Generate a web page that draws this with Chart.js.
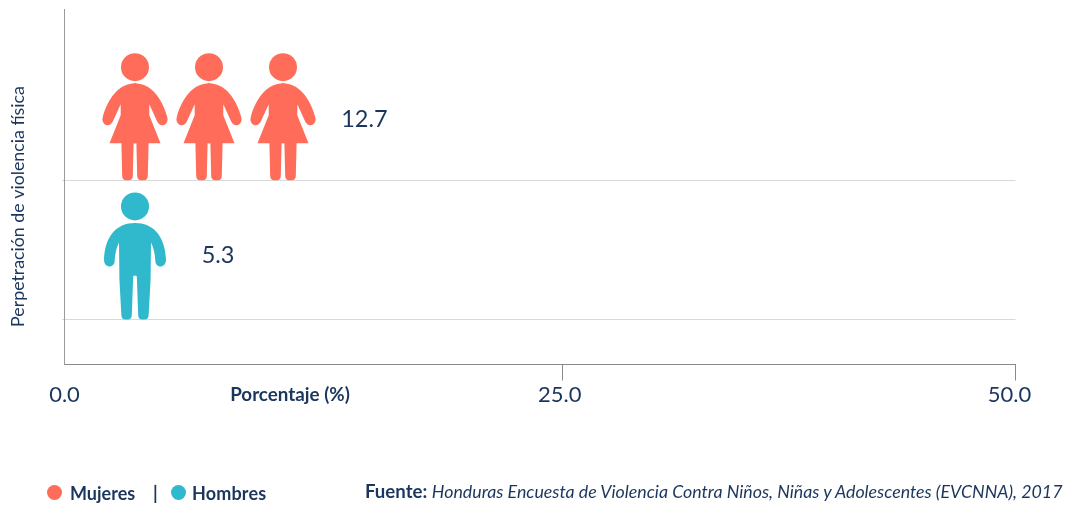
<!DOCTYPE html>
<html lang="es">
<head>
<meta charset="utf-8">
<title>Perpetración de violencia física</title>
<script src="https://cdn.jsdelivr.net/npm/chart.js@4/dist/chart.umd.min.js"></script>
<style>
html,body{margin:0;padding:0;background:#fff;width:1065px;height:505px;overflow:hidden}
#wrap{position:relative;width:1065px;height:505px;font-family:Lato,"Noto Sans",sans-serif;color:#1b365d}
#c{position:absolute;left:0;top:0}
.t{position:absolute;white-space:nowrap;font-size:18px;line-height:20px}
.d{position:absolute;width:15px;height:15px;border-radius:50%}
b{font-weight:700}
i{font-size:17.8px}
</style>
</head>
<body>
<div id="wrap">
<canvas id="c" width="1065" height="505"></canvas>
<span class="d" style="left:47px;top:485px;background:#ff6c5a"></span>
<span class="t" style="left:70px;top:483px"><b>Mujeres</b></span>
<span class="t" style="left:153px;top:483px"><b>|</b></span>
<span class="d" style="left:171px;top:485px;background:#30b9cc"></span>
<span class="t" style="left:192px;top:483px;letter-spacing:.15px"><b>Hombres</b></span>
<span class="t" style="left:365px;top:481px"><b style="font-size:18.6px">Fuente:</b> <i>Honduras Encuesta de Violencia Contra Niños, Niñas y Adolescentes (EVCNNA), 2017</i></span>
</div>
<script>
const categories = ['Mujeres', 'Hombres'];
const values = [12.7, 5.3];
const bandCenters = [0.5, 1.5];
const colors = ['#ff6c5a', '#30b9cc'];
const xTickValues = [0, 25, 50];
const xTickLabels = ['0.0', '25.0', '50.0'];
const yGridValues = [1, 2];
const yAxisTitle = 'Perpetración de violencia física';
const xAxisTitle = 'Porcentaje (%)';

const NAVY = '#1b365d';
const FONT = 'Lato, "Noto Sans", sans-serif';

/* The published axis is not evenly spaced: 25 sits past the middle of the line. */
class BrokenLinearScale extends Chart.LinearScale {
  getPixelForValue(v) {
    const midFrac = this.options.midFraction;
    const mid = this.options.midValue;
    const f = v <= mid ? (v / mid) * midFrac
                       : midFrac + ((v - mid) / (this.max - mid)) * (1 - midFrac);
    return this.left + f * this.width;
  }
  _computeLabelItems(area) {
    const items = super._computeLabelItems(area);
    const shifts = this.options.labelShifts || [];
    items.forEach((it, i) => { it.options.translation[0] += shifts[i] || 0; });
    return items;
  }
}
BrokenLinearScale.id = 'brokenLinear';
BrokenLinearScale.defaults = Chart.LinearScale.defaults;
Chart.register(BrokenLinearScale);

function roundLegBottom(p, xOut, xIn, r) {
  p.lineTo(xOut, -r);
  p.quadraticCurveTo(xOut - 0.3, 0, xOut - r, 0);
  p.lineTo(xIn + r, 0);
  p.quadraticCurveTo(xIn + 0.3, 0, xIn, -r);
}
function womanHalf() {
  const p = new Path2D();
  p.moveTo(-1, -97);
  p.lineTo(0, -97);
  p.bezierCurveTo(15, -97, 27, -83, 32.3, -63);
  p.bezierCurveTo(33.6, -58, 30, -54.5, 26.5, -55);
  p.bezierCurveTo(24.7, -55.5, 23.3, -56.5, 22.3, -58.5);
  p.lineTo(14.3, -76);
  p.lineTo(14.3, -65);
  p.lineTo(25.5, -37);
  p.lineTo(13.6, -37);
  roundLegBottom(p, 12.8, 2.2, 4);
  p.lineTo(1.4, -37);
  p.lineTo(-1, -37);
  p.closePath();
  return p;
}
function manHalf() {
  const p = new Path2D();
  p.moveTo(-1, -96.5);
  p.lineTo(0, -96.5);
  p.bezierCurveTo(18, -96.5, 30, -84, 31, -60);
  p.bezierCurveTo(31, -55, 28, -53, 25.5, -53);
  p.bezierCurveTo(22.5, -53, 20.3, -55.5, 20.3, -59);
  p.bezierCurveTo(20, -66, 18.5, -72, 16, -77);
  p.lineTo(15.6, -40);
  roundLegBottom(p, 13.6, 3.2, 4);
  p.lineTo(1.8, -43);
  p.quadraticCurveTo(0, -46, -1, -43);
  p.closePath();
  return p;
}
const iconPaths = [womanHalf(), manHalf()];
const iconHeadY = [-113, -113];
const iconHalfWidth = [33, 31];

const pictogramPlugin = {
  id: 'pictogram',
  afterDatasetsDraw(chart, args, opts) {
    const { ctx } = chart;
    const x = chart.scales.x, y = chart.scales.y;
    chart.getDatasetMeta(0).data.forEach((bar, i) => {
      const bottom = y.getPixelForValue(bandCenters[i] + 0.5);
      ctx.save();
      ctx.fillStyle = colors[i];
      for (let cx = x.left + opts.firstOffset; cx + iconHalfWidth[i] <= bar.x; cx += opts.pitch) {
        for (const dir of [1, -1]) {
          ctx.save();
          ctx.translate(cx, bottom);
          ctx.scale(dir, 1);
          ctx.fill(iconPaths[i]);
          ctx.restore();
        }
        ctx.beginPath();
        ctx.arc(cx, bottom + iconHeadY[i], 14, 0, Math.PI * 2);
        ctx.fill();
      }
      ctx.fillStyle = NAVY;
      ctx.font = opts.valueFont;
      ctx.textAlign = 'left';
      ctx.textBaseline = 'middle';
      ctx.fillText(values[i].toFixed(1), bar.x + opts.labelGap[i], bar.y + opts.labelDy[i]);
      ctx.restore();
    });
  }
};

const axisTextPlugin = {
  id: 'axisText',
  afterDraw(chart) {
    const { ctx } = chart;
    ctx.save();
    ctx.fillStyle = NAVY;
    ctx.textBaseline = 'middle';
    ctx.textAlign = 'center';
    ctx.font = '700 18.8px ' + FONT;
    ctx.fillText(xAxisTitle, 290, 394.5);
    ctx.translate(18.5, 206.5);
    ctx.rotate(-Math.PI / 2);
    ctx.font = '400 17.8px ' + FONT;
    ctx.fillText(yAxisTitle, 0, 0);
    ctx.restore();
  }
};

new Chart(document.getElementById('c'), {
  type: 'bar',
  data: {
    datasets: [{
      label: 'Perpetración de violencia física',
      data: categories.map((c, i) => ({ x: values[i], y: bandCenters[i] })),
      backgroundColor: 'rgba(0,0,0,0)',
      borderWidth: 0,
      barThickness: 126
    }]
  },
  options: {
    indexAxis: 'y',
    responsive: false,
    animation: false,
    layout: { padding: { left: 0, top: 9, right: 49.5, bottom: 0 } },
    plugins: {
      legend: { display: false },
      tooltip: { enabled: false },
      pictogram: {
        firstOffset: 71, pitch: 74,
        labelGap: [24, 32], labelDy: [8.5, 6],
        valueFont: '400 23.5px ' + FONT
      }
    },
    scales: {
      x: {
        type: 'brokenLinear',
        position: 'bottom',
        min: 0, max: 50,
        midValue: 25, midFraction: 498.3 / 951.5,
        labelShifts: [0.5, -2.5, -6],
        afterFit(s) { s.height = 140.5; },
        afterBuildTicks(s) { s.ticks = xTickValues.map(v => ({ value: v })); },
        border: { color: '#8a8a8a', width: 1 },
        grid: {
          drawOnChartArea: false,
          drawTicks: true,
          tickLength: 16,
          tickWidth: 1,
          tickColor: c => (c.tick && c.tick.value === 0 ? 'rgba(0,0,0,0)' : '#8a8a8a')
        },
        ticks: {
          autoSkip: false, maxRotation: 0, padding: 1,
          color: NAVY,
          font: { family: FONT, size: 22 },
          callback: (v) => xTickLabels[xTickValues.indexOf(v)]
        }
      },
      y: {
        type: 'linear',
        reverse: true,
        offset: false,
        min: -0.23, max: 2.324,
        afterFit(s) { s.width = 64; },
        afterBuildTicks(s) { s.ticks = yGridValues.map(v => ({ value: v })); },
        border: { color: '#9a9a9a', width: 1 },
        grid: { offset: false, color: '#d9d9d9', lineWidth: 1, tickLength: 2, drawTicks: true },
        ticks: { display: false }
      }
    }
  },
  plugins: [pictogramPlugin, axisTextPlugin]
});
</script>
</body>
</html>
